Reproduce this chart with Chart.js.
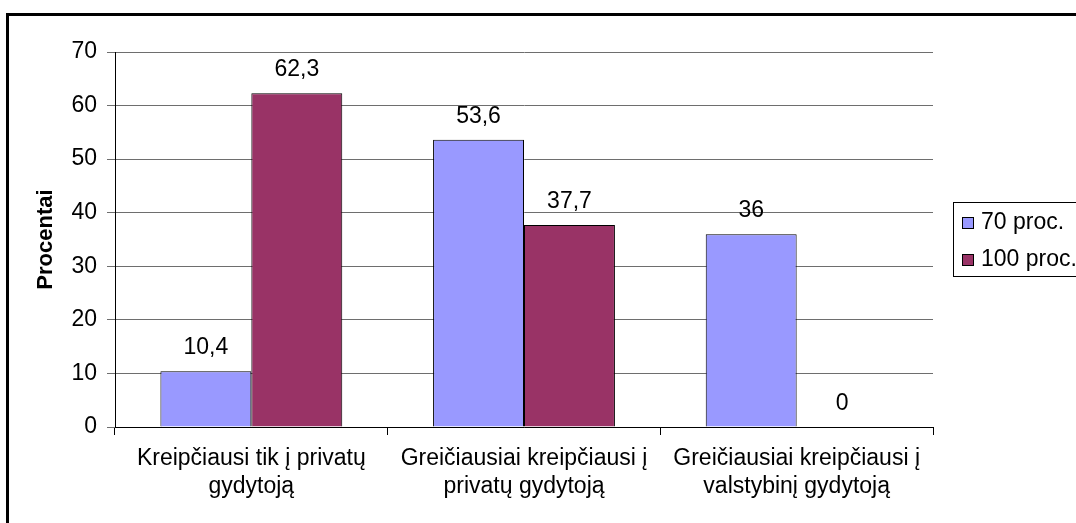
<!DOCTYPE html>
<html>
<head>
<meta charset="utf-8">
<script src="https://cdn.jsdelivr.net/npm/chart.js@4.4.0/dist/chart.umd.min.js"></script>
<style>
  html, body { margin: 0; padding: 0; background: #fff; overflow: hidden; }
  #wrap { position: relative; width: 1076px; height: 523px; }
  #frame {
    position: absolute; left: 6px; top: 13px; width: 1200px; height: 600px;
    border-left: 3px solid #000; border-top: 3px solid #000;
  }
  #chart { position: absolute; left: 0; top: 0; }
</style>
</head>
<body>
<div id="wrap">
  <div id="frame"></div>
  <canvas id="chart" width="1076" height="523"></canvas>
</div>
<script>
const kategorijos = [
  ['Kreipčiausi tik į privatų', 'gydytoją'],
  ['Greičiausiai kreipčiausi į', 'privatų gydytoją'],
  ['Greičiausiai kreipčiausi į', 'valstybinį gydytoją']
];
const serijos = ['70 proc.', '100 proc.'];
const reiksmes70 = [10.4, 53.6, 36];
const reiksmes100 = [62.3, 37.7, 0];
const ySkale = [0, 70, 10];

const SRIFTAS = "'Liberation Sans', Arial, sans-serif";
const DYDIS = 23;
const spalvos = ['#9999FF', '#993366'];

// reiksmes virs stulpeliu, kablelis vietoj tasko
const reiksmiuZymes = {
  id: 'reiksmiuZymes',
  afterDatasetsDraw(chart) {
    const ctx = chart.ctx;
    ctx.save();
    ctx.font = DYDIS + 'px ' + SRIFTAS;
    ctx.fillStyle = '#000';
    ctx.textAlign = 'center';
    ctx.textBaseline = 'alphabetic';
    chart.data.datasets.forEach((ds, i) => {
      chart.getDatasetMeta(i).data.forEach((bar, j) => {
        const txt = String(ds.data[j]).replace('.', ',');
        ctx.fillText(txt, bar.x, bar.y - 17);
      });
    });
    ctx.restore();
  }
};

// legenda su remeliu desineje
const legenda = {
  id: 'legenda',
  afterDraw(chart) {
    const ctx = chart.ctx;
    ctx.save();
    ctx.strokeStyle = '#000';
    ctx.lineWidth = 1;
    ctx.strokeRect(953.5, 202.5, 200, 74);
    ctx.font = DYDIS + 'px ' + SRIFTAS;
    ctx.textAlign = 'left';
    ctx.textBaseline = 'alphabetic';
    chart.data.datasets.forEach((ds, i) => {
      const y = 217 + i * 37;
      ctx.fillStyle = ds.backgroundColor;
      ctx.fillRect(962, y, 12, 12);
      ctx.strokeRect(962.5, y + 0.5, 11, 11);
      ctx.fillStyle = '#000';
      ctx.fillText(ds.label, 981, y + 11.5);
    });
    ctx.restore();
  }
};

new Chart(document.getElementById('chart'), {
  type: 'bar',
  data: {
    labels: kategorijos,
    datasets: [
      {
        label: serijos[0],
        data: reiksmes70,
        backgroundColor: spalvos[0],
        borderColor: '#000',
        borderWidth: 1,
        categoryPercentage: 0.667,
        barPercentage: 1
      },
      {
        label: serijos[1],
        data: reiksmes100,
        backgroundColor: spalvos[1],
        borderColor: '#000',
        borderWidth: 1,
        categoryPercentage: 0.667,
        barPercentage: 1
      }
    ]
  },
  options: {
    responsive: false,
    animation: false,
    layout: { padding: { left: 0, top: 52, right: 143, bottom: 0 } },
    plugins: {
      legend: { display: false },
      tooltip: { enabled: false }
    },
    scales: {
      x: {
        offset: true,
        grid: {
          offset: true,
          drawOnChartArea: false,
          drawTicks: true,
          tickLength: 8,
          color: '#000'
        },
        border: { color: '#000', width: 1 },
        ticks: {
          color: '#000',
          font: { family: SRIFTAS, size: DYDIS, lineHeight: 1.2 },
          padding: 10,
          maxRotation: 0,
          autoSkip: false
        },
        afterFit(scale) { scale.height = 96; }
      },
      y: {
        min: ySkale[0],
        max: ySkale[1],
        ticks: {
          stepSize: ySkale[2],
          color: '#000',
          font: { family: SRIFTAS, size: DYDIS },
          padding: 10
        },
        grid: { color: '#6e6e6e', tickLength: 8 },
        border: { color: '#000', width: 1 },
        title: {
          display: true,
          text: 'Procentai',
          color: '#000',
          font: { family: SRIFTAS, size: 22, weight: 'bold' },
          padding: { top: 33, bottom: 0 }
        },
        afterFit(scale) { scale.width = 115; }
      }
    }
  },
  plugins: [reiksmiuZymes, legenda]
});
</script>
</body>
</html>
